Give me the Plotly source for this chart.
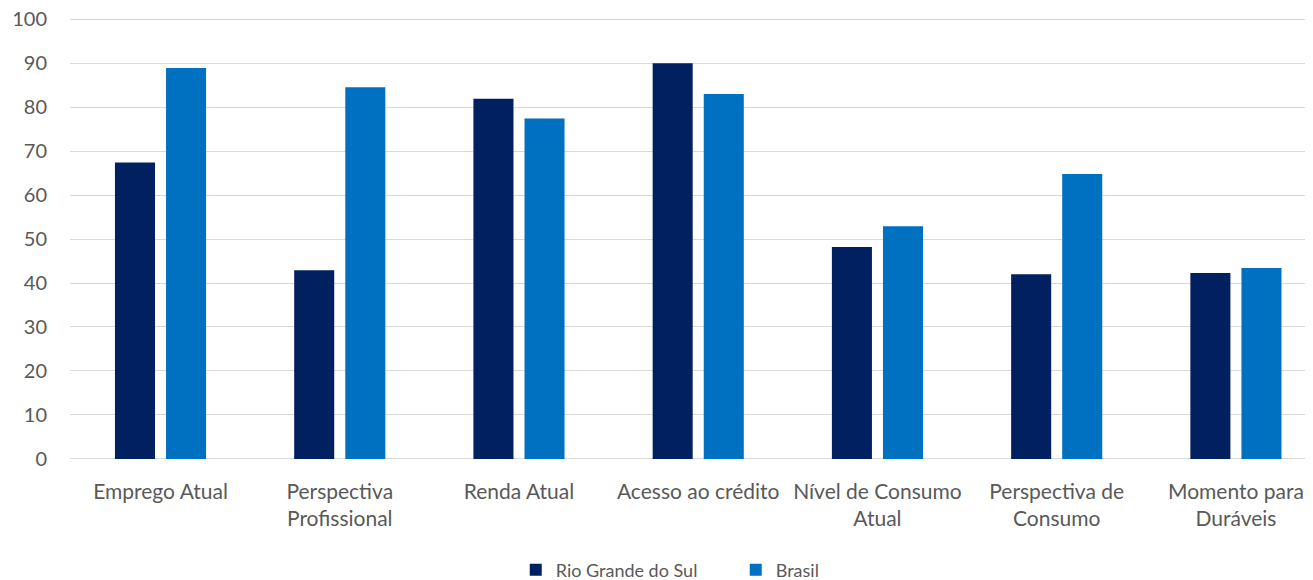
import plotly.graph_objects as go

categories = ["Emprego Atual", "Perspectiva<br>Profissional", "Renda Atual", "Acesso ao crédito",
              "Nível de Consumo<br>Atual", "Perspectiva de<br>Consumo", "Momento para<br>Duráveis"]
rs_values = [67.4, 42.9, 81.9, 90.0, 48.2, 42.0, 42.3]
br_values = [88.9, 84.5, 77.4, 83.0, 52.9, 64.8, 43.4]
y_ticks = [0, 10, 20, 30, 40, 50, 60, 70, 80, 90, 100]

fig = go.Figure()
fig.add_trace(go.Bar(x=categories, y=rs_values, name="Rio Grande do Sul",
                     marker=dict(color="#002060", line=dict(width=0))))
fig.add_trace(go.Bar(x=categories, y=br_values, name="Brasil",
                     marker=dict(color="#0070C0", line=dict(width=0))))

font_family = "Lato, 'Open Sans', sans-serif"
fig.update_layout(
    width=1305, height=572,
    margin=dict(l=62, r=0, t=9, b=120, autoexpand=False),
    plot_bgcolor="white", paper_bgcolor="white",
    barmode="group", bargap=0.43, bargroupgap=0.216,
    font=dict(family=font_family, size=21, color="#595959"),
    showlegend=True,
    legend=dict(orientation="h", x=0.3586, xanchor="left", yref="container", y=0.0175,
                yanchor="middle", font=dict(size=18, color="#595959"), itemwidth=30,
                entrywidth=175, entrywidthmode="pixels"),
    xaxis=dict(showgrid=False, showline=False, ticks="", tickfont=dict(size=21),
               automargin=False, range=[-0.505, 6.43], ticklabelstandoff=17),
    yaxis=dict(range=[-0.25, 100.5], tickvals=y_ticks, showgrid=True, gridcolor="#d9d9d9",
               gridwidth=1.3, zeroline=True, zerolinecolor="#d9d9d9", zerolinewidth=1.3,
               ticks="", tickfont=dict(size=20), automargin=False, ticklabelstandoff=22,
               ticklabeloverflow="allow"),
)
fig.write_html("out.html")
